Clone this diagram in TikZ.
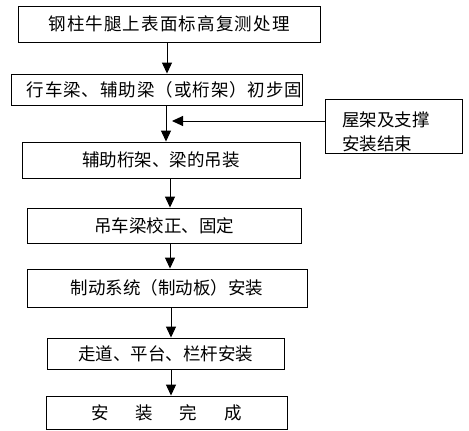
\documentclass[tikz,border=0pt]{standalone}
\usepackage{fontspec}
\setmainfont{Noto Sans CJK SC}
\usetikzlibrary{arrows.meta,positioning}
\tikzset{stepbox/.style={draw, rectangle, line width=0.9pt, text centered, inner sep=0pt, text height=14pt, text depth=1pt, font=\fontsize{17.5pt}{24pt}\selectfont}}
\tikzset{notebox/.style={draw, rectangle, line width=0.9pt, align=left, inner ysep=0pt, font=\fontsize{17.5pt}{24pt}\selectfont}}
\tikzset{flow/.style={line width=1pt, -{Triangle[length=11pt,width=10pt]}}}

\begin{document}
\begin{tikzpicture}[x=1pt, y=-1pt]
			\useasboundingbox (0,0) rectangle (469,431);
			\node[stepbox, minimum width=302pt, minimum height=36pt] (S1) at (169,24) {\addfontfeature{LetterSpace=6.5}钢柱牛腿上表面标高复测处理};
			\node[stepbox, minimum width=290pt, minimum height=31pt] (S2) at (157,89.5) {\hspace*{15pt}\addfontfeature{LetterSpace=5.4}行车梁、辅助梁（或桁架）初步固};
			\node[stepbox, minimum width=278pt, minimum height=36pt] (S3) at (161,160) {辅助桁架、梁的吊装};
			\node[stepbox, minimum width=274pt, minimum height=35pt] (S4) at (164,225.5) {吊车梁校正、固定};
			\node[stepbox, minimum width=280pt, minimum height=38pt] (S5) at (167,288) {制动系统（制动板）安装};
			\node[stepbox, minimum width=237pt, minimum height=31pt] (S6) at (165.5,353.5) {走道、平台、栏杆安装};
			\node[stepbox, minimum width=241pt, minimum height=33pt] (S7) at (166.5,412.5) {安\hspace{27pt}装\hspace{27pt}完\hspace{27pt}成};
			
			\node[notebox, text width=103pt, inner xsep=17pt, minimum height=54pt] (roof) at (393.5,126) {\rule{0pt}{26pt}屋架及支撑\\安装结束};
			\coordinate (join) at (172,121);
			
			\draw[flow] ([xshift=-2pt]S1.south) -- ([xshift=10pt]S2.north);
			\draw[flow] ([xshift=9pt]S2.south) -- ([xshift=5pt]S3.north);
			\draw[flow] ([xshift=9pt]S3.south) -- ([xshift=6pt]S4.north);
			\draw[flow] ([xshift=6pt]S4.south) -- ([xshift=3pt]S5.north);
			\draw[flow] ([xshift=4pt]S5.south) -- ([xshift=5.5pt]S6.north);
			\draw[flow] ([xshift=5.5pt]S6.south) -- ([xshift=4.5pt]S7.north);
			\draw[flow] ([yshift=5pt]roof.west) -- (join);
\end{tikzpicture}
\end{document}
